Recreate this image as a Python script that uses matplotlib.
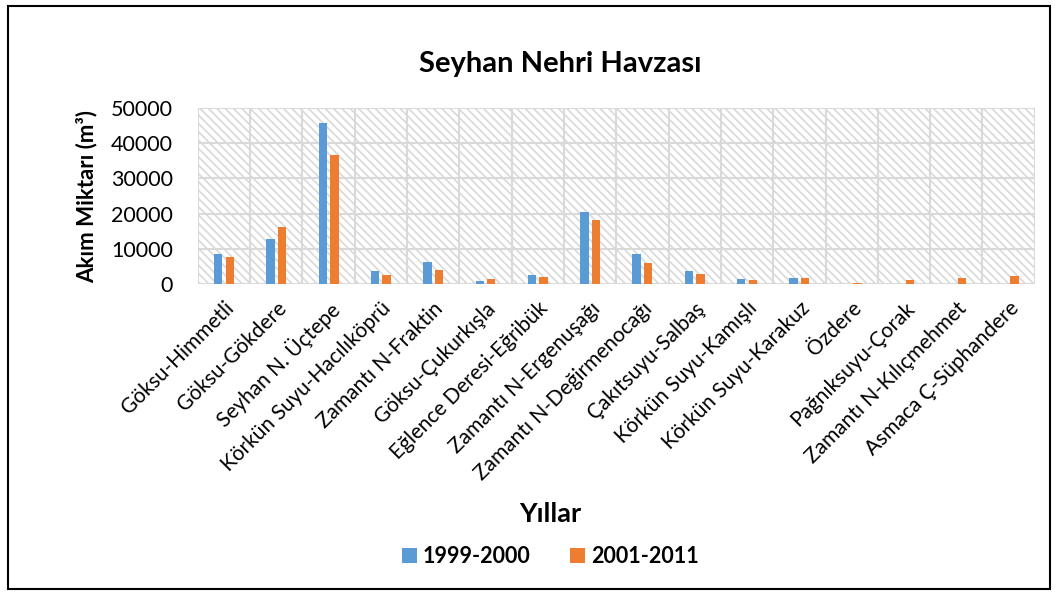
import matplotlib.pyplot as plt
from matplotlib.patches import Rectangle
import numpy as np

plt.rcParams['font.family'] = ['Lato', 'DejaVu Sans']
plt.rcParams['hatch.color'] = '#d9d9d9'
plt.rcParams['hatch.linewidth'] = 1.2

stations = ['Göksu-Himmetli', 'Göksu-Gökdere', 'Seyhan N. Üçtepe',
            'Körkün Suyu-Hacılıköprü', 'Zamantı N-Fraktin', 'Göksu-Çukurkışla',
            'Eğlence Deresi-Eğribük', 'Zamantı N-Ergenuşağı',
            'Zamantı N-Değirmenocağı', 'Çakıtsuyu-Salbaş', 'Körkün Suyu-Kamışlı',
            'Körkün Suyu-Karakuz', 'Özdere', 'Pağnıksuyu-Çorak',
            'Zamantı N-Kılıçmehmet', 'Asmaca Ç-Süphandere']
flow_1999_2000 = [8700, 12800, 45600, 3800, 6200, 800, 2700, 20500,
                  8600, 3800, 1600, 1900, 0, 0, 0, 0]
flow_2001_2011 = [7700, 16100, 36700, 2700, 4100, 1500, 2200, 18100,
                  6000, 3000, 1250, 1800, 500, 1250, 1700, 2400]
yticks = [0, 10000, 20000, 30000, 40000, 50000]

blue = '#5b9bd5'
orange = '#ed7d31'

fig = plt.figure(figsize=(10.58, 5.96), dpi=100)
ax = fig.add_axes([0.187, 0.523, 0.791, 0.296])

x = np.arange(len(stations))
w = 0.16
ax.bar(x - 0.11, flow_1999_2000, w, color=blue, label='1999-2000', zorder=3)
ax.bar(x + 0.11, flow_2001_2011, w, color=orange, label='2001-2011', zorder=3)

ax.set_xlim(-0.5, len(stations) - 0.5)
ax.set_ylim(0, 50000)

# hatched background and grid
ax.add_patch(Rectangle((0, 0), 1, 1, transform=ax.transAxes, facecolor='white',
                       hatch='\\\\\\\\', edgecolor='#d9d9d9', linewidth=0, zorder=0))
for v in yticks:
    ax.axhline(v, color='#d9d9d9', lw=1.5, zorder=1)
for b in np.arange(-0.5, len(stations), 1):
    ax.axvline(b, color='#d9d9d9', lw=1.5, zorder=1)

for s in ax.spines.values():
    s.set_visible(False)

ax.set_yticks(yticks)
ax.set_yticklabels([str(v) for v in yticks], fontsize=15.5)
ax.set_xticks(x)
ax.set_xticklabels(stations, rotation=45, ha='right', rotation_mode='anchor',
                   fontsize=15)
ax.tick_params(axis='y', length=0, pad=18)
ax.tick_params(axis='x', length=0, pad=10)

ax.set_ylabel('Akım Miktarı (m³)', fontsize=16, fontweight='bold')
ax.yaxis.set_label_coords(-0.12, 0.5)
fig.text(0.53, 0.893, 'Seyhan Nehri Havzası', ha='center', va='center',
         fontsize=21, fontweight='bold')
fig.text(0.52, 0.138, 'Yıllar', ha='center', va='center', fontsize=19.5,
         fontweight='bold')

leg = fig.legend(loc='center', bbox_to_anchor=(0.52, 0.066), ncol=2, frameon=False,
                 prop={'size': 15.5, 'weight': 'bold'}, handlelength=0.7,
                 handleheight=0.7, columnspacing=1.8, handletextpad=0.3)

# outer frame
fig.add_artist(Rectangle((0.008, 0.012), 0.984, 0.978, transform=fig.transFigure,
                         fill=False, edgecolor='black', linewidth=1.5))

fig.savefig('out.png', dpi=100)
